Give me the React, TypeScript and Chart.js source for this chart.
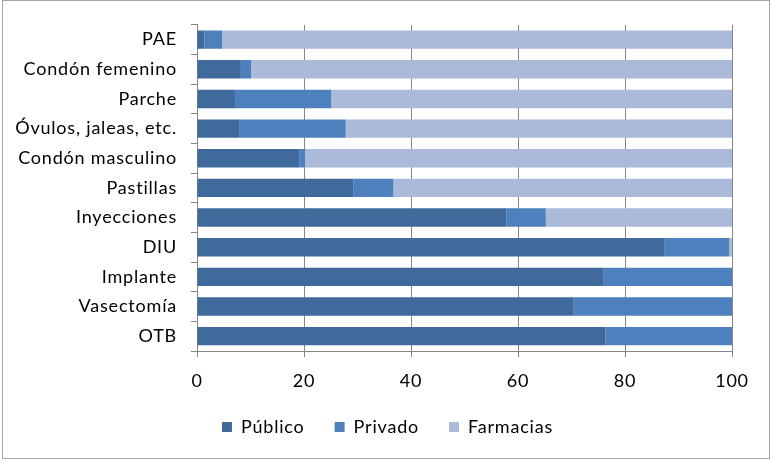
import React, { useEffect, useRef } from "react";
import { Chart, registerables } from "chart.js";

Chart.register(...registerables);

const categories = [
  "PAE",
  "Condón femenino",
  "Parche",
  "Óvulos, jaleas, etc.",
  "Condón masculino",
  "Pastillas",
  "Inyecciones",
  "DIU",
  "Implante",
  "Vasectomía",
  "OTB",
];
const publico = [1.4, 8.2, 7.1, 8.0, 19.1, 29.2, 57.8, 87.3, 75.9, 70.3, 76.3];
const privado = [3.3, 1.9, 18.0, 19.8, 1.1, 7.5, 7.4, 12.2, 24.1, 29.7, 23.7];
const farmacias = [95.3, 89.9, 74.9, 72.2, 79.8, 63.3, 34.8, 0.5, 0, 0, 0];
const xTicks = [0, 20, 40, 60, 80, 100];

const FONT = "Lato";
const FSIZE = 18;
const GRID = "#878787";
const SPACING = "0.8px";

const spacingPlugin = {
  id: "letterSpacing",
  beforeLayout(chart: any) {
    (chart.ctx as any).letterSpacing = SPACING;
  },
  beforeDraw(chart: any) {
    (chart.ctx as any).letterSpacing = SPACING;
  },
};

const borderPlugin = {
  id: "outerBorder",
  afterDraw(chart: any) {
    const ctx = chart.ctx;
    ctx.save();
    ctx.strokeStyle = "#a6a6a6";
    ctx.lineWidth = 1;
    ctx.strokeRect(2.5, 0.5, 767, 458);
    ctx.restore();
  },
};

export default function App() {
  const ref = useRef<HTMLCanvasElement | null>(null);
  useEffect(() => {
    if (!ref.current) return;
    const chart = new Chart(ref.current, {
      type: "bar",
      data: {
        labels: categories,
        datasets: [
          { label: "Público", data: publico, backgroundColor: "#416A9C", borderWidth: 0 },
          { label: "Privado", data: privado, backgroundColor: "#4E80BD", borderWidth: 0 },
          { label: "Farmacias", data: farmacias, backgroundColor: "#AABAD8", borderWidth: 0 },
        ],
      },
      options: {
        indexAxis: "y",
        responsive: false,
        animation: false,
        layout: { padding: { left: 3, right: 0, top: 21, bottom: 16 } },
        datasets: { bar: { barPercentage: 0.62, categoryPercentage: 1 } },
        plugins: {
          legend: {
            position: "bottom",
            labels: {
              boxWidth: 10,
              boxHeight: 10,
              padding: 30,
              color: "#000",
              font: { family: FONT, size: FSIZE },
            },
          },
          tooltip: { enabled: false },
        },
        scales: {
          x: {
            stacked: true,
            min: 0,
            max: 100,
            afterBuildTicks: (scale: any) => {
              scale.ticks = xTicks.map((v) => ({ value: v }));
            },
            afterFit: (scale: any) => {
              scale.height = 37;
            },
            grid: { color: GRID, tickLength: 6 },
            border: { color: GRID },
            ticks: { color: "#000", padding: 13, font: { family: FONT, size: FSIZE } },
          },
          y: {
            stacked: true,
            afterFit: (scale: any) => {
              scale.width = 194;
            },
            grid: { offset: true, drawOnChartArea: false, drawTicks: true, tickLength: 6, color: GRID },
            border: { color: GRID },
            ticks: { color: "#000", padding: 14, font: { family: FONT, size: FSIZE } },
          },
          y2: {
            type: "linear",
            position: "right",
            display: true,
            afterFit: (scale: any) => {
              scale.width = 40;
            },
            grid: { display: false },
            border: { display: false },
            ticks: { display: false },
          },
        },
      },
      plugins: [spacingPlugin, borderPlugin],
    } as any);
    return () => chart.destroy();
  }, []);
  return (
    <div style={{ position: "absolute", left: 0, top: 0, width: 772, height: 462 }}>
      <canvas ref={ref} width={772} height={462} />
    </div>
  );
}
